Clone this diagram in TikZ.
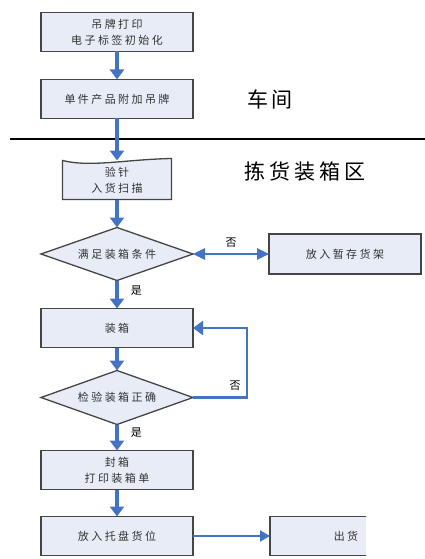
\documentclass[tikz,border=0pt]{standalone}
\usepackage{fontspec}
\setmainfont{Noto Sans CJK SC}
\newfontfamily\cjkbox[LetterSpace=22]{Noto Sans CJK SC}
\newfontfamily\cjkhead[LetterSpace=18]{Noto Sans CJK SC}
\usetikzlibrary{arrows.meta,positioning,shapes.geometric,calc,backgrounds}
\definecolor{FlowBlue}{HTML}{4472C4}
\definecolor{FlowFill}{HTML}{E8ECF6}
\definecolor{FlowEdge}{HTML}{454545}
\tikzset{box/.style={draw=FlowEdge,line width=1.3pt,fill=FlowFill,align=center,minimum width=152pt,minimum height=39pt,outer sep=0pt,inner sep=2pt,text=black!80,font=\fontsize{11}{16}\cjkbox}, decision/.style={box,diamond,aspect=2.9,minimum height=53pt,inner sep=0pt}, arrow/.style={-{Triangle[length=10pt,width=14pt]},line width=3.2pt,draw=FlowBlue}, twoway/.style={arrow,{Triangle[length=12pt,width=11pt]}-{Triangle[length=12pt,width=11pt]},line width=2.6pt}, lbl/.style={font=\fontsize{11}{13}\selectfont}, zone/.style={font=\fontsize{21}{24}\cjkhead}}

\begin{document}
\begin{tikzpicture}[x=1pt,y=-1pt]
\useasboundingbox (0,0) rectangle (425,559);
\node[box] (init) at (117,32) {吊牌打印\\电子标签初始化};\node[box,below=28pt of init] (tag) {单件产品附加吊牌};
\node[box,draw=none,fill=none,minimum width=109pt,below=42pt of tag] (scan) {验针\\入货扫描};
\node[decision,below=28pt of scan] (cond) {满足装箱条件};\node[box,minimum height=40pt,right=76pt of cond] (hold) {放入暂存货架};
\node[box,below=28pt of cond] (pack) {装箱};\node[decision,minimum height=54pt,below=23pt of pack] (check) {检验装箱正确};
\node[box,below=26pt of check] (seal) {封箱\\打印装箱单};\node[box,below=27pt of seal] (pallet) {放入托盘货位};
\begin{scope}
\clip (0,0) rectangle (366,559);
\node[box,right=77pt of pallet] (ship) {出货};
\end{scope}
\begin{scope}[on background layer]
\draw[draw=FlowEdge,line width=1.3pt,fill=FlowFill] (scan.south west) -- (scan.north west) .. controls ($(scan.north west)+(28pt,-7pt)$) and ($(scan.north)+(8pt,1pt)$) .. ($(scan.north east)+(0pt,2pt)$) -- (scan.south east) -- cycle;
\end{scope}
% zones
\draw[line width=1.8pt] (10,139) -- (425,139);
\node[zone] (workshop) at (270,99) {车间};\node[zone] (pickzone) at (305,172) {拣货装箱区};
% flow
\draw[arrow] (init)--(tag);\draw[arrow] (tag)--(scan);\draw[arrow] (scan)--(cond);
\draw[twoway] (cond)-- node[lbl,above=2pt]{否} (hold);
\draw[arrow] (cond)-- node[lbl,pos=0.35,right=9pt]{是} (pack);\draw[arrow] (pack)--(check);
\draw[arrow,line width=2.6pt] (check.east)-- node[lbl,pos=0.78,above=2pt]{否} ++(54,0) |- (pack.east);
\draw[arrow] (check)-- node[lbl,pos=0.3,right=9pt]{是} (seal);\draw[arrow] (seal)--(pallet);\draw[arrow,line width=2.2pt,-{Triangle[length=10pt,width=11pt]}] (pallet)--(ship);
\end{tikzpicture}
\end{document}
